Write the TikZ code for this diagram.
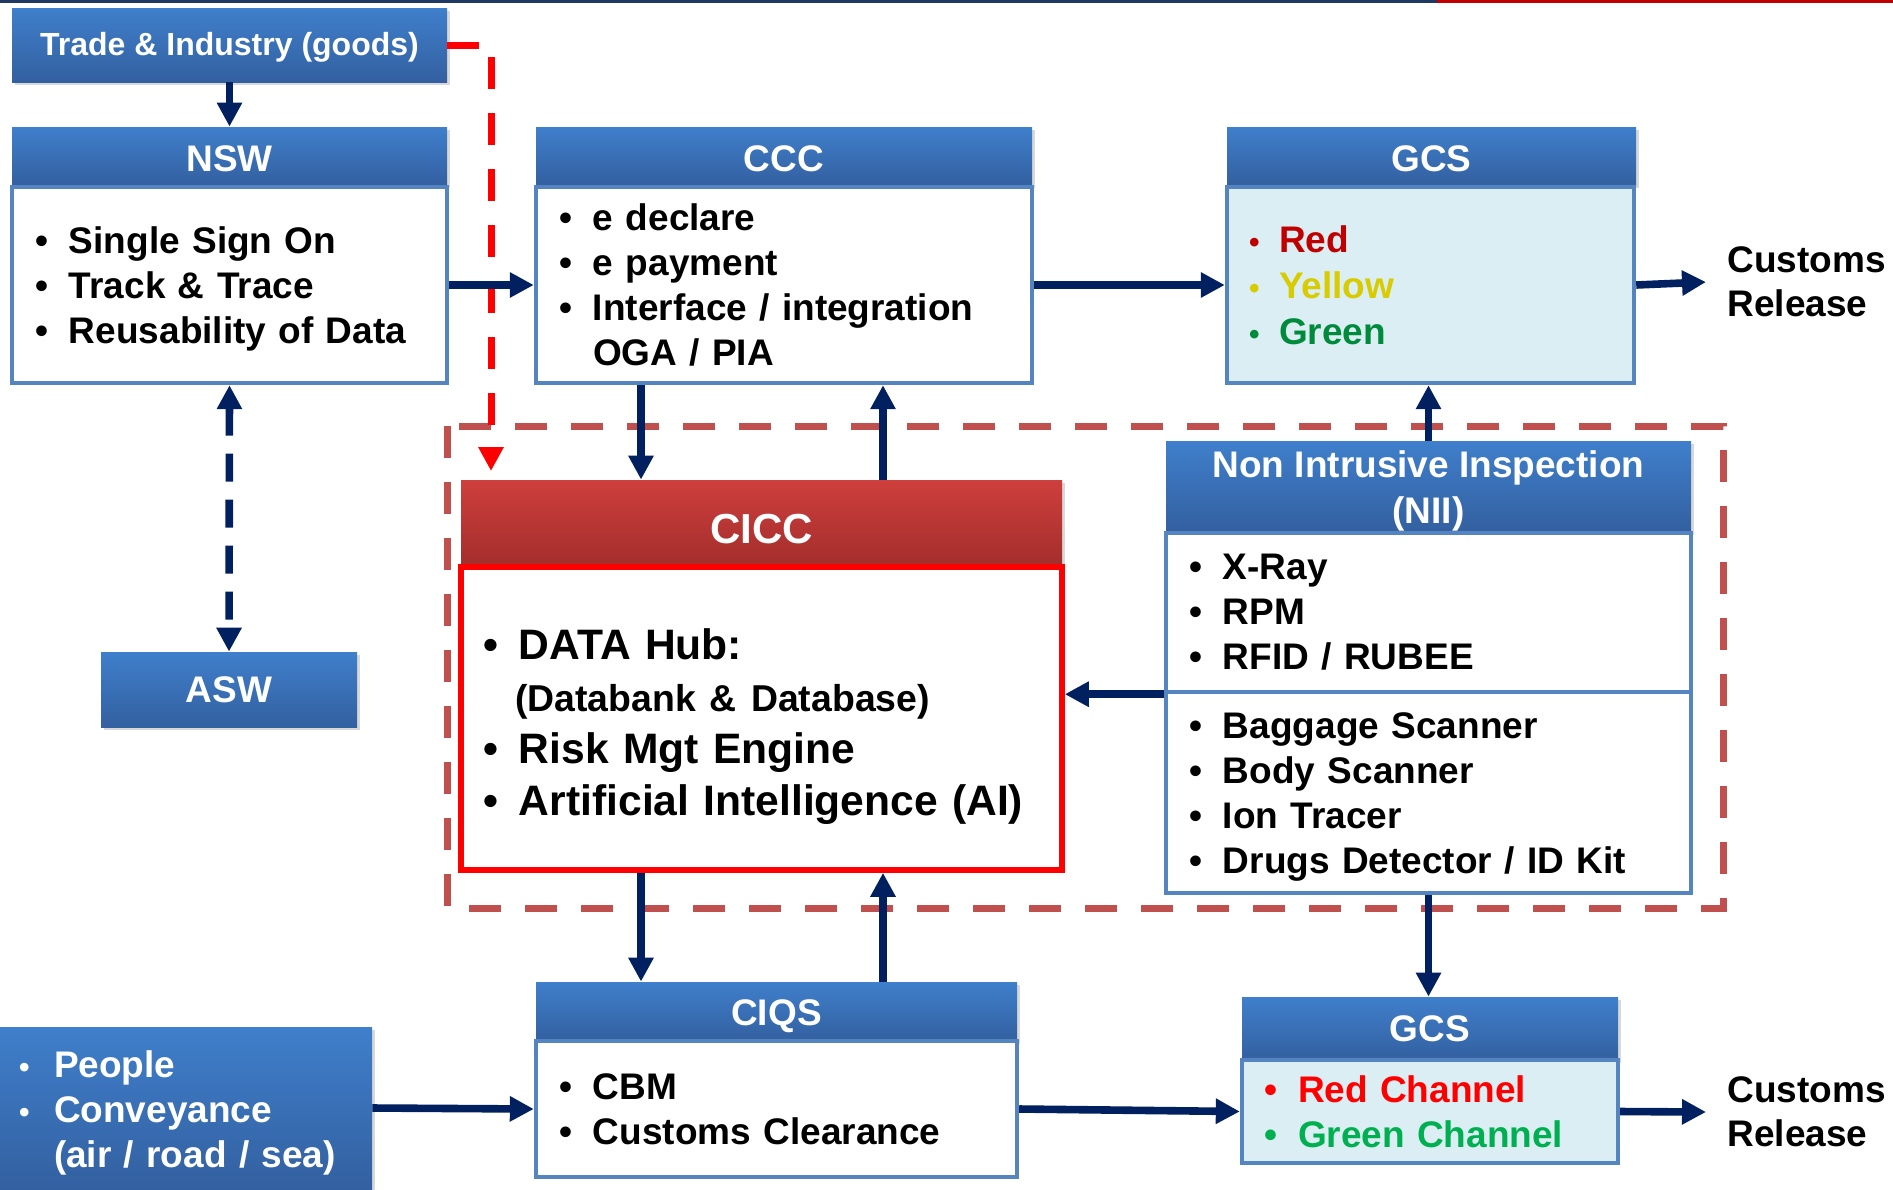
\documentclass[tikz,border=0pt]{standalone}
\usepackage{fontspec}
\setmainfont{Liberation Sans}
\usetikzlibrary{arrows.meta,shadows}
\definecolor{hdrtop}{HTML}{3F7FCB}
\definecolor{hdrbot}{HTML}{3360A0}
\definecolor{boxline}{HTML}{5585C0}
\definecolor{flownavy}{HTML}{002060}
\definecolor{cicctop}{HTML}{CE3F3D}
\definecolor{ciccbot}{HTML}{A32E2C}
\definecolor{zonered}{HTML}{C0504D}
\definecolor{gcsfill}{HTML}{DAEEF3}
\definecolor{gcsred}{HTML}{C00000}
\definecolor{gcsyellow}{HTML}{D8CC00}
\definecolor{gcsgreen}{HTML}{008A3C}
\definecolor{chgreen}{HTML}{00B050}
\definecolor{topnavy}{HTML}{1F3864}
\newcommand\itm{\makebox[17pt][l]{\textbullet}}
\newcommand\itmb{\makebox[18pt][l]{\textbullet}}
\newcommand\itmw{\makebox[17.5pt][l]{{\fontsize{15}{15}\selectfont\textbullet}}}
\newcommand\colbul[1]{\makebox[15pt][l]{\textcolor{#1}{\fontsize{15}{15}\selectfont\textbullet}}}
\newcommand\colbulb[1]{\makebox[17pt][l]{\textcolor{#1}{\textbullet}}}
\newcommand\hdrstrut[1]{\rule{0pt}{#1}}
\tikzset{
  hdr/.style={top color=hdrtop, bottom color=hdrbot, text=white, inner sep=0pt,
    align=center, font=\bfseries\fontsize{18.5}{23}\selectfont,
    drop shadow={shadow xshift=1.5pt,shadow yshift=-1.5pt,opacity=0.3}},
  listbox/.style={draw=boxline, line width=2.2pt, fill=white, inner ysep=0pt,
    inner xsep=11.5pt, align=left, font=\bfseries\fontsize{18.5}{22.5}\selectfont},
  release/.style={anchor=west, inner xsep=10.5pt, inner ysep=0pt, align=left,
    font=\bfseries\fontsize{18.5}{22}\selectfont},
  flow/.style={draw=flownavy, line width=3.8pt, -{Triangle[length=12pt,width=12pt]}},
  flowboth/.style={draw=flownavy, line width=3.8pt, dash pattern=on 14pt off 9pt,
    {Triangle[length=12pt,width=12pt]}-{Triangle[length=12pt,width=12pt]}},
  alertline/.style={draw=red, line width=3.5pt, dash pattern=on 16pt off 12pt,
    -{Triangle[length=12pt,width=12pt]}},
  zone/.style={draw=zonered, line width=3.5pt, dash pattern=on 16pt off 12pt}
}
\begin{document}
\begin{tikzpicture}[x=0.5pt,y=-0.5pt]
\fill[white] (0,0) rectangle (1893,1189);
\useasboundingbox (0,0) rectangle (1893,1189);
\fill[topnavy] (0,0) rectangle (1437,3);
\fill[gcsred] (1437,0) rectangle (1893,3);
\draw[zone] (447,426) rectangle (1723,908);

\node[hdr, minimum width=217.5pt, minimum height=37pt, font=\bfseries\fontsize{16}{19}\selectfont] (trade) at (229.5,45) {\hdrstrut{14.1pt}Trade \& Industry (goods)};

\node[hdr, minimum width=217.5pt, minimum height=29pt] (nswhead) at (229.5,156) {\hdrstrut{15.7pt}NSW};
\node[listbox, minimum height=98pt, text width=194.5pt] (nswbody) at (229.5,285)
  {\hdrstrut{17.1pt}\itm Single Sign On\\ \itm Track \& Trace\\ \itm Reusability of Data};

\node[hdr, minimum width=248pt, minimum height=29pt] (ccchead) at (784,156) {\hdrstrut{15.7pt}CCC};
\node[listbox, minimum height=98pt, text width=225pt] (cccbody) at (784,285)
  {\itm e declare\\ \itm e payment\\ \itm Interface / integration\\ \hspace*{17pt}OGA / PIA};

\node[hdr, minimum width=204.5pt, minimum height=29pt] (gcshead) at (1431.5,156) {\hdrstrut{15.7pt}GCS};
\node[listbox, fill=gcsfill, inner xsep=11pt, text width=181.5pt, minimum height=98pt,
  font=\bfseries\fontsize{18.5}{23}\selectfont] (gcsbody) at (1430.5,285)
  {\colbul{gcsred}\textcolor{gcsred}{Red}\\ \colbul{gcsyellow}\textcolor{gcsyellow}{Yellow}\\ \colbul{gcsgreen}\textcolor{gcsgreen}{Green}};
\node[release] (release1) at (1706,282) {Customs\\Release};

\node[hdr, top color=cicctop, bottom color=ciccbot, minimum width=300.5pt, minimum height=42.5pt,
  font=\bfseries\fontsize{21}{25}\selectfont] (cicchead) at (761.5,522.5) {\hdrstrut{21pt}CICC};
\node[listbox, draw=red, line width=2.8pt, inner xsep=11pt, text width=278.5pt, minimum height=151.5pt,
  font=\bfseries\fontsize{21.3}{26}\selectfont] (ciccbody) at (761.5,718.5)
  {\hdrstrut{23.3pt}\itmb DATA Hub:\\ \hspace*{16pt}{\fontsize{18.7}{26}\selectfont(Databank \& Database)}\\ \itmb Risk Mgt Engine\\ \itmb Artificial Intelligence (AI)};

\node[hdr, minimum width=262.5pt, minimum height=44.5pt] (niihead) at (1428.5,486.5) {\hdrstrut{18.3pt}Non Intrusive Inspection\\(NII)};
\node[listbox, minimum height=79.5pt, text width=239.5pt] (niibodya) at (1428.5,612.5)
  {\itm X-Ray\\ \itm RPM\\ \itm RFID / RUBEE};
\node[listbox, minimum height=100.5pt, text width=239.5pt] (niibodyb) at (1428.5,792.5)
  {\hdrstrut{17.1pt}\itm Baggage Scanner\\ \itm Body Scanner\\ \itm Ion Tracer\\ \itm Drugs Detector / ID Kit};

\node[hdr, minimum width=128pt, minimum height=37.5pt] (asw) at (229,689.5) {ASW};

\node[hdr, minimum width=240.5pt, minimum height=29.5pt] (ciqshead) at (776.5,1011.5) {\hdrstrut{18.1pt}CIQS};
\node[listbox, minimum height=68pt, text width=217.5pt] (ciqsbody) at (776.5,1109)
  {\itm CBM\\ \itm Customs Clearance};

\node[hdr, minimum width=186pt, minimum height=81pt, align=left, inner xsep=9.5pt, text width=167pt,
  font=\bfseries\fontsize{18.5}{22.5}\selectfont] (people) at (186,1108)
  {\hdrstrut{18.3pt}\itmw People\\ \itmw Conveyance\\ \hspace*{17.5pt}(air / road / sea)};

\node[hdr, minimum width=188pt, minimum height=31.5pt] (gcs2head) at (1430,1028.5) {GCS};
\node[listbox, fill=gcsfill, inner xsep=11pt, text width=166pt, minimum height=51.5pt] (gcs2body) at (1430,1111.5)
  {\colbulb{red}\textcolor{red}{Red Channel}\\ \colbulb{chgreen}\textcolor{chgreen}{Green Channel}};
\node[release] (release2) at (1706,1112) {Customs\\Release};

\coordinate (lanea) at (641,0);
\coordinate (laneb) at (883,0);
\coordinate (alert) at (491,471);

\draw[alertline] (trade.east) -| (alert);
\draw[flow] (trade.south) -- (nswhead.north);
\draw[flowboth] (nswbody.south) -- (asw.north);
\draw[flow] (nswbody.east) -- (cccbody.west);
\draw[flow] (cccbody.east) -- (gcsbody.west);
\draw[flow] (gcsbody.east) -- (release1.west);
\draw[flow] (lanea |- cccbody.south) -- (lanea |- cicchead.north);
\draw[flow] (laneb |- cicchead.north) -- (laneb |- cccbody.south);
\draw[flow] (niihead.north) -- (niihead.north |- gcsbody.south);
\draw[flow] (niibodya.south west) -- (niibodya.south west -| ciccbody.east);
\draw[flow] (lanea |- ciccbody.south) -- (lanea |- ciqshead.north);
\draw[flow] (laneb |- ciqshead.north) -- (laneb |- ciccbody.south);
\draw[flow] (niibodyb.south) -- (niibodyb.south |- gcs2head.north);
\draw[flow] (people.east) -- (ciqsbody.west);
\draw[flow] (ciqsbody.east) -- (gcs2body.west);
\draw[flow] (gcs2body.east) -- (release2.west);
\end{tikzpicture}
\end{document}
